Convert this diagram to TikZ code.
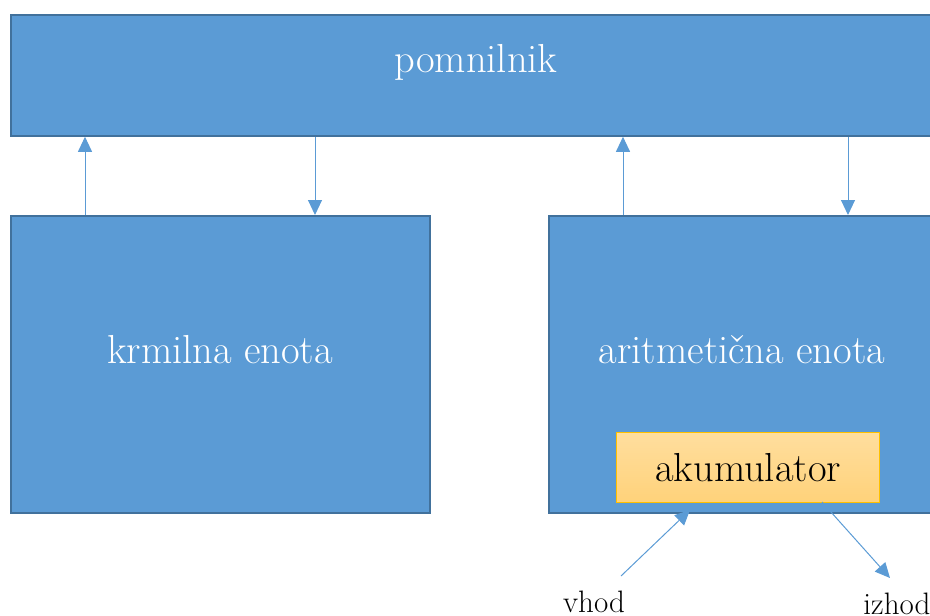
\documentclass[tikz,border=0pt]{standalone}
\usetikzlibrary{arrows.meta}
\definecolor{boxblue}{HTML}{5B9BD5}
\definecolor{boxedge}{HTML}{41719C}
\definecolor{arrblue}{HTML}{5B9BD5}
\definecolor{acctop}{HTML}{FFDE9E}
\definecolor{accbot}{HTML}{FFD27A}
\definecolor{accedge}{HTML}{FFC000}
\begin{document}
\begin{tikzpicture}[x=1pt,y=-1pt,
  bluebox/.style={draw=boxedge,line width=1.8pt,fill=boxblue,rectangle,inner sep=0pt,anchor=north west},
  boxtext/.style={text=white,font=\fontsize{40.5}{48}\selectfont},
  arr/.style={draw=arrblue,line width=1pt,-{Triangle[width=14pt,length=15pt]}},
  lbl/.style={font=\fontsize{31}{36}\selectfont,text=black}]
\useasboundingbox (0,0) rectangle (930,616);
\node[bluebox,minimum width=932pt,minimum height=121pt] (mem) at (10,14) {};
\node[bluebox,minimum width=419pt,minimum height=297pt] (krm) at (10,215) {};
\node[bluebox,minimum width=390pt,minimum height=297pt] (alu) at (548,215) {};
\node[boxtext] (memt) at (476,62) {pomnilnik};
\node[boxtext] (krmt) at (220,350) {krmilna enota};
\node[boxtext] (alut) at (742,350) {aritmetična enota};
\node[draw=accedge,line width=1pt,top color=acctop,bottom color=accbot,rectangle,inner sep=0pt,
  minimum width=263pt,minimum height=70pt,anchor=north west,
  font=\fontsize{40.5}{48}\selectfont] (acc) at (616,432) {akumulator};
\coordinate (c1) at (85,0);
\coordinate (c2) at (315,0);
\coordinate (c3) at (623,0);
\coordinate (c4) at (848,0);
\draw[arr] (krm.north -| c1) -- (mem.south -| c1);
\draw[arr] (mem.south -| c2) -- (krm.north -| c2);
\draw[arr] (alu.north -| c3) -- (mem.south -| c3);
\draw[arr] (mem.south -| c4) -- (alu.north -| c4);
\node[lbl] (vhod) at (594,602) {vhod};
\node[lbl] (izhod) at (897,604) {izhod};
\coordinate (vin) at (621,576);
\coordinate (vout) at (690,510);
\coordinate (iin) at (822,502);
\coordinate (iout) at (890,578);
\draw[arr] (vin) -- (vout);
\draw[arr] (iin) -- (iout);
\end{tikzpicture}
\end{document}
